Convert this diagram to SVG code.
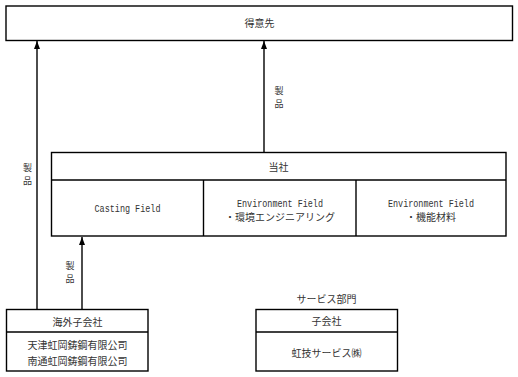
<svg xmlns="http://www.w3.org/2000/svg" width="518" height="377" viewBox="0 0 518 377">
<style>
.box{fill:#fff;stroke:#000;stroke-width:1.4}
.div{stroke:#000;stroke-width:1.4;fill:none}
.t{font-family:"Noto Sans CJK JP","Liberation Serif",sans-serif;font-size:10px;fill:#333;text-anchor:middle;dominant-baseline:central}
.s{font-size:9px}
.m{font-family:"Liberation Mono",monospace}
.c{stroke:#000;stroke-width:1.4;fill:none;marker-end:url(#ah)}
</style>
<defs>
<marker id="ah" viewBox="0 0 8 6" refX="8" refY="3" markerWidth="8" markerHeight="6" markerUnits="userSpaceOnUse" orient="auto">
<path d="M0,0 L8,3 L0,6 z" fill="#000"/>
</marker>
</defs>
<rect width="518" height="377" fill="#fff"/>
<g id="connectors">
<line class="c" x1="37" y1="309.5" x2="37" y2="41"/>
<line class="c" x1="264" y1="152.5" x2="264" y2="41"/>
<line class="c" x1="82" y1="309.5" x2="82" y2="237"/>
<text class="t s"><tspan x="27.5" y="167">製</tspan><tspan x="27.5" y="180.3">品</tspan></text>
<text class="t s"><tspan x="279" y="89.5">製</tspan><tspan x="279" y="102.8">品</tspan></text>
<text class="t s"><tspan x="70" y="265">製</tspan><tspan x="70" y="278.3">品</tspan></text>
</g>
<g id="customer">
<rect class="box" x="6" y="6" width="506.5" height="34.5"/>
<text class="t" x="259.5" y="22.5">得意先</text>
</g>
<g id="company">
<rect class="box" x="51.5" y="152.5" width="454.5" height="83.5"/>
<line class="div" x1="51.5" y1="180" x2="506" y2="180"/>
<line class="div" x1="203.5" y1="180" x2="203.5" y2="236"/>
<line class="div" x1="356" y1="180" x2="356" y2="236"/>
<text class="t" x="278.5" y="166">当社</text>
<text class="t m" x="127.5" y="209" textLength="66" lengthAdjust="spacingAndGlyphs">Casting Field</text>
<text class="t"><tspan class="m" x="280" y="204" textLength="86" lengthAdjust="spacingAndGlyphs">Environment Field</tspan><tspan x="280" y="215.5">・環境エンジニアリング</tspan></text>
<text class="t"><tspan class="m" x="431" y="204" textLength="86" lengthAdjust="spacingAndGlyphs">Environment Field</tspan><tspan x="431" y="215.5">・機能材料</tspan></text>
</g>
<g id="overseas">
<rect class="box" x="6.5" y="309.5" width="141.5" height="61.5"/>
<line class="div" x1="6.5" y1="332" x2="148" y2="332"/>
<text class="t" x="77.5" y="321">海外子会社</text>
<text class="t" x="77.5" y="344">天津虹岡鋳鋼有限公司</text>
<text class="t" x="77.5" y="360.5">南通虹岡鋳鋼有限公司</text>
</g>
<g id="subsidiary">
<text class="t" x="326.5" y="298">サービス部門</text>
<rect class="box" x="256" y="309.5" width="141.5" height="61.5"/>
<line class="div" x1="256" y1="332" x2="397.5" y2="332" stroke-width="1.8"/>
<text class="t" x="326.5" y="320.5">子会社</text>
<text class="t" x="326.5" y="352.5">虹技サービス㈱</text>
</g>
</svg>
